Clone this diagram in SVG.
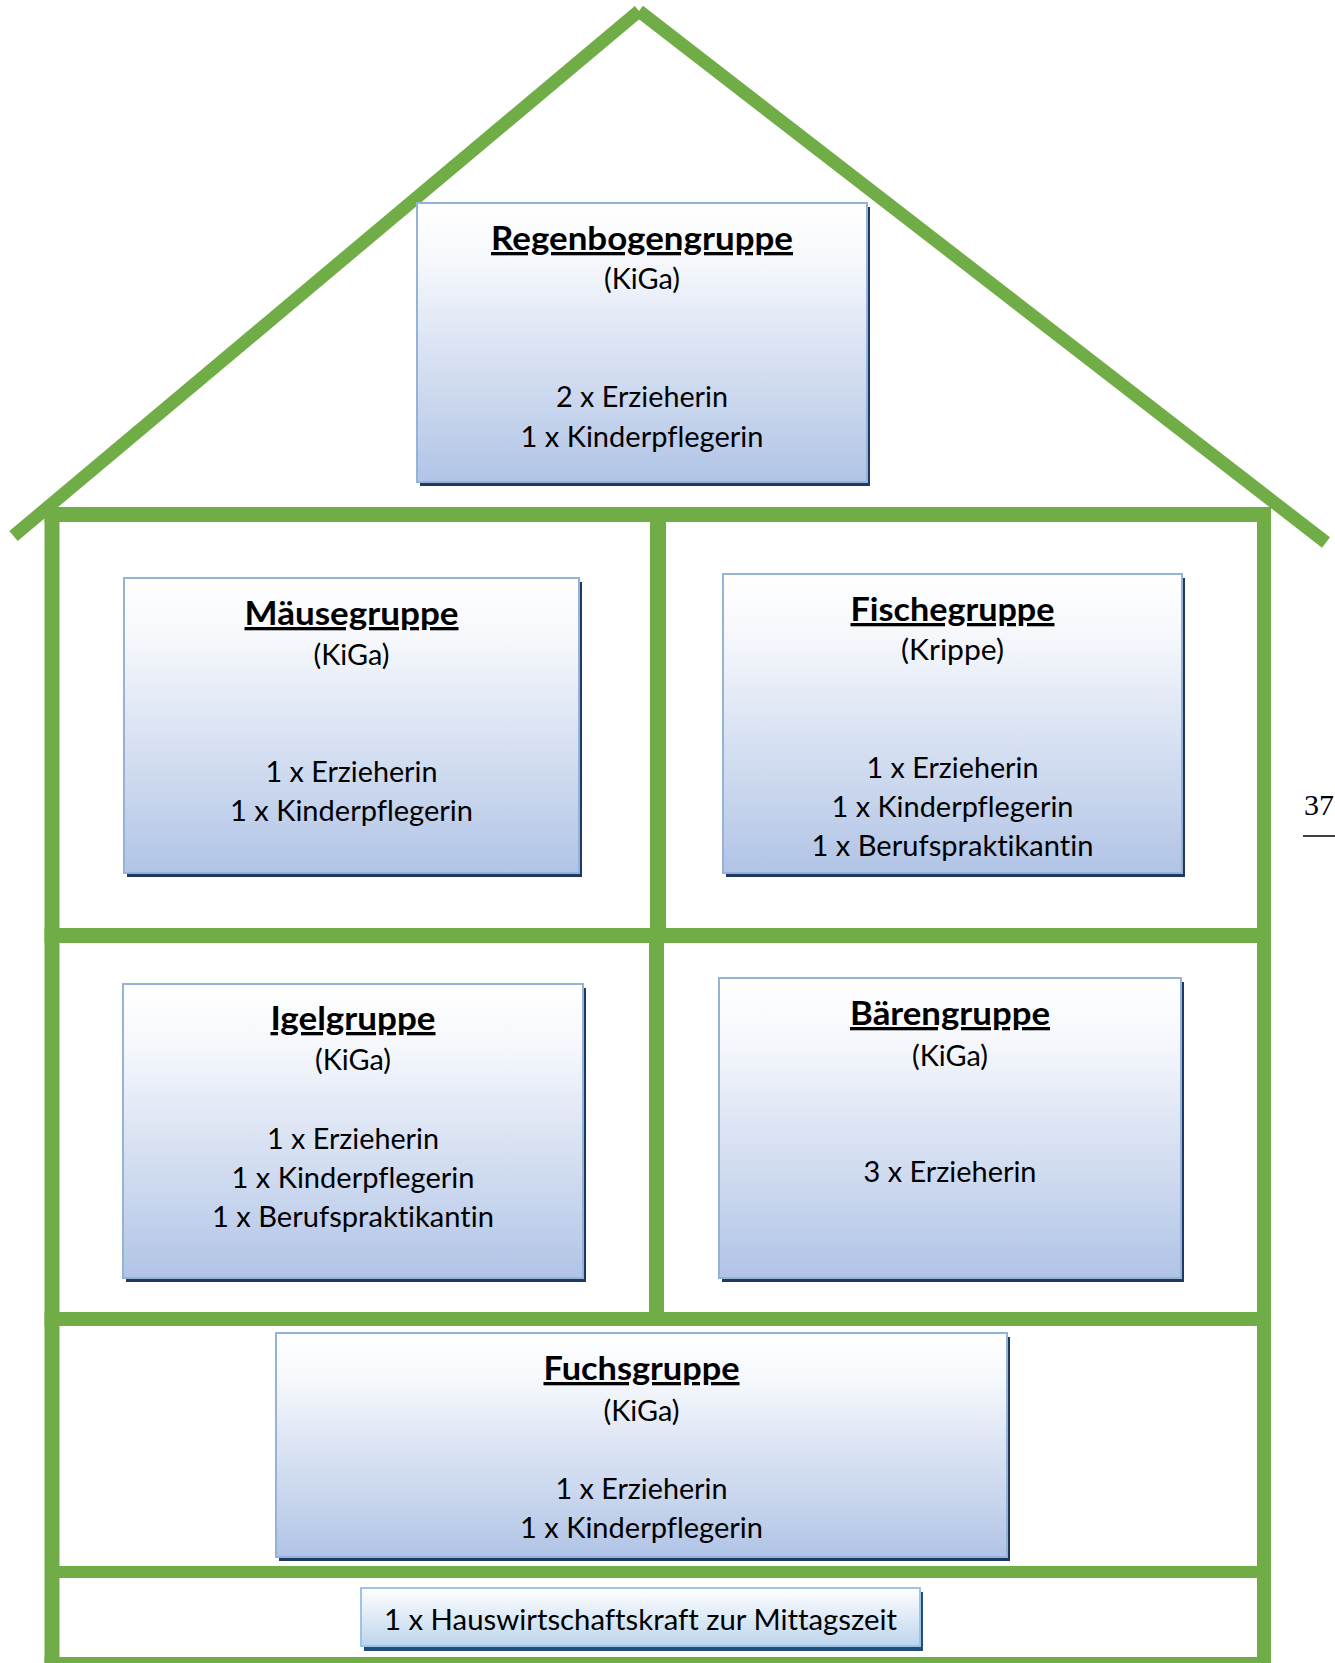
<svg xmlns="http://www.w3.org/2000/svg" width="1335" height="1663" viewBox="0 0 1335 1663">
<defs>
<linearGradient id="gBlue" x1="0" y1="0" x2="0" y2="1">
<stop offset="0" stop-color="#ffffff"/>
<stop offset="0.2" stop-color="#f6f8fc"/>
<stop offset="1" stop-color="#b1c4e6"/>
</linearGradient>
<linearGradient id="gLight" x1="0" y1="0" x2="0" y2="1">
<stop offset="0" stop-color="#ffffff"/>
<stop offset="1" stop-color="#bcd5ee"/>
</linearGradient>
<style>
.wall{stroke:#70ad47;stroke-linecap:butt;fill:none}
.shadow{fill:#1f3864}
.box{fill:url(#gBlue);stroke:#95b3d7;stroke-width:2}
.shadow2{fill:#1f4e79}
.box2{fill:url(#gLight);stroke:#9dc3e6;stroke-width:2}
text{font-family:Lato,"Open Sans","Liberation Sans",sans-serif;fill:#000;text-anchor:middle;font-variant-ligatures:none;font-feature-settings:"liga" 0,"dlig" 0}
.t{font-size:33px;font-weight:bold;text-decoration:underline}
.b{font-size:28.5px}
.pg{font-family:"Liberation Serif","Times New Roman",serif;font-size:30px;text-anchor:start}
</style>
</defs>
<rect width="1335" height="1663" fill="#ffffff"/>

<g id="house">
<line class="wall" x1="639" y1="11" x2="13.5" y2="536" stroke-width="13"/>
<line class="wall" x1="639" y1="11" x2="1326" y2="542.5" stroke-width="13"/>
<line class="wall" x1="44.5" y1="514.5" x2="1271" y2="514.5" stroke-width="15"/>
<line class="wall" x1="52" y1="507" x2="52" y2="1663" stroke-width="15"/>
<line class="wall" x1="1264" y1="507" x2="1264" y2="1663" stroke-width="14"/>
<line class="wall" x1="658" y1="522" x2="658" y2="943" stroke-width="16"/>
<line class="wall" x1="44.5" y1="935.5" x2="1271" y2="935.5" stroke-width="15"/>
<line class="wall" x1="656.5" y1="928" x2="656.5" y2="1326" stroke-width="15"/>
<line class="wall" x1="44.5" y1="1319" x2="1271" y2="1319" stroke-width="14"/>
<line class="wall" x1="59" y1="1572" x2="1271" y2="1572" stroke-width="12"/>
<line class="wall" x1="44.5" y1="1664" x2="1271" y2="1664" stroke-width="14"/>
</g>

<g id="connectors"></g>

<g id="regenbogen">
<rect class="shadow" x="420" y="207" width="450" height="279"/>
<rect class="box" x="417" y="203" width="450" height="279"/>
<text class="t" x="642" y="250" textLength="302" lengthAdjust="spacingAndGlyphs">Regenbogengruppe</text>
<text class="b" x="642" y="289" textLength="76" lengthAdjust="spacingAndGlyphs">(KiGa)</text>
<text class="b" x="642" y="407" textLength="172" lengthAdjust="spacingAndGlyphs">2 x Erzieherin</text>
<text class="b" x="642" y="447" textLength="243" lengthAdjust="spacingAndGlyphs">1 x Kinderpflegerin</text>
</g>

<g id="maeuse">
<rect class="shadow" x="127" y="582" width="455" height="295"/>
<rect class="box" x="124" y="578" width="455" height="295"/>
<text class="t" x="351.5" y="625" textLength="214" lengthAdjust="spacingAndGlyphs">Mäusegruppe</text>
<text class="b" x="351.5" y="665" textLength="76" lengthAdjust="spacingAndGlyphs">(KiGa)</text>
<text class="b" x="351.5" y="782" textLength="172" lengthAdjust="spacingAndGlyphs">1 x Erzieherin</text>
<text class="b" x="351.5" y="821" textLength="243" lengthAdjust="spacingAndGlyphs">1 x Kinderpflegerin</text>
</g>

<g id="fische">
<rect class="shadow" x="726" y="578" width="459" height="299"/>
<rect class="box" x="723" y="574" width="459" height="299"/>
<text class="t" x="952.5" y="621" textLength="204" lengthAdjust="spacingAndGlyphs">Fischegruppe</text>
<text class="b" x="952.5" y="660" textLength="103" lengthAdjust="spacingAndGlyphs">(Krippe)</text>
<text class="b" x="952.5" y="778" textLength="172" lengthAdjust="spacingAndGlyphs">1 x Erzieherin</text>
<text class="b" x="952.5" y="817" textLength="242" lengthAdjust="spacingAndGlyphs">1 x Kinderpflegerin</text>
<text class="b" x="952.5" y="856" textLength="282" lengthAdjust="spacingAndGlyphs">1 x Berufspraktikantin</text>
</g>

<g id="igel">
<rect class="shadow" x="126" y="988" width="460" height="294"/>
<rect class="box" x="123" y="984" width="460" height="294"/>
<text class="t" x="353" y="1030" textLength="165" lengthAdjust="spacingAndGlyphs">Igelgruppe</text>
<text class="b" x="353" y="1070" textLength="76" lengthAdjust="spacingAndGlyphs">(KiGa)</text>
<text class="b" x="353" y="1149" textLength="172" lengthAdjust="spacingAndGlyphs">1 x Erzieherin</text>
<text class="b" x="353" y="1188" textLength="243" lengthAdjust="spacingAndGlyphs">1 x Kinderpflegerin</text>
<text class="b" x="353" y="1227" textLength="282" lengthAdjust="spacingAndGlyphs">1 x Berufspraktikantin</text>
</g>

<g id="baeren">
<rect class="shadow" x="722" y="982" width="462" height="300"/>
<rect class="box" x="719" y="978" width="462" height="300"/>
<text class="t" x="950" y="1025" textLength="200" lengthAdjust="spacingAndGlyphs">Bärengruppe</text>
<text class="b" x="950" y="1066" textLength="76" lengthAdjust="spacingAndGlyphs">(KiGa)</text>
<text class="b" x="950" y="1182" textLength="173" lengthAdjust="spacingAndGlyphs">3 x Erzieherin</text>
</g>

<g id="fuchs">
<rect class="shadow" x="279" y="1337" width="731" height="224"/>
<rect class="box" x="276" y="1333" width="731" height="224"/>
<text class="t" x="641.5" y="1380" textLength="196" lengthAdjust="spacingAndGlyphs">Fuchsgruppe</text>
<text class="b" x="641.5" y="1421" textLength="76" lengthAdjust="spacingAndGlyphs">(KiGa)</text>
<text class="b" x="641.5" y="1499" textLength="172" lengthAdjust="spacingAndGlyphs">1 x Erzieherin</text>
<text class="b" x="641.5" y="1538" textLength="243" lengthAdjust="spacingAndGlyphs">1 x Kinderpflegerin</text>
</g>

<g id="hauswirtschaft">
<rect class="shadow2" x="364" y="1592" width="559" height="59"/>
<rect class="box2" x="361" y="1588" width="559" height="58"/>
<text class="b" x="640.5" y="1630" textLength="513" lengthAdjust="spacingAndGlyphs">1 x Hauswirtschaftskraft zur Mittagszeit</text>
</g>

<g id="pagenumber">
<text class="pg" x="1304" y="815">37</text>
<line x1="1303" y1="836" x2="1335" y2="836" stroke="#000" stroke-width="1.5"/>
</g>
</svg>
